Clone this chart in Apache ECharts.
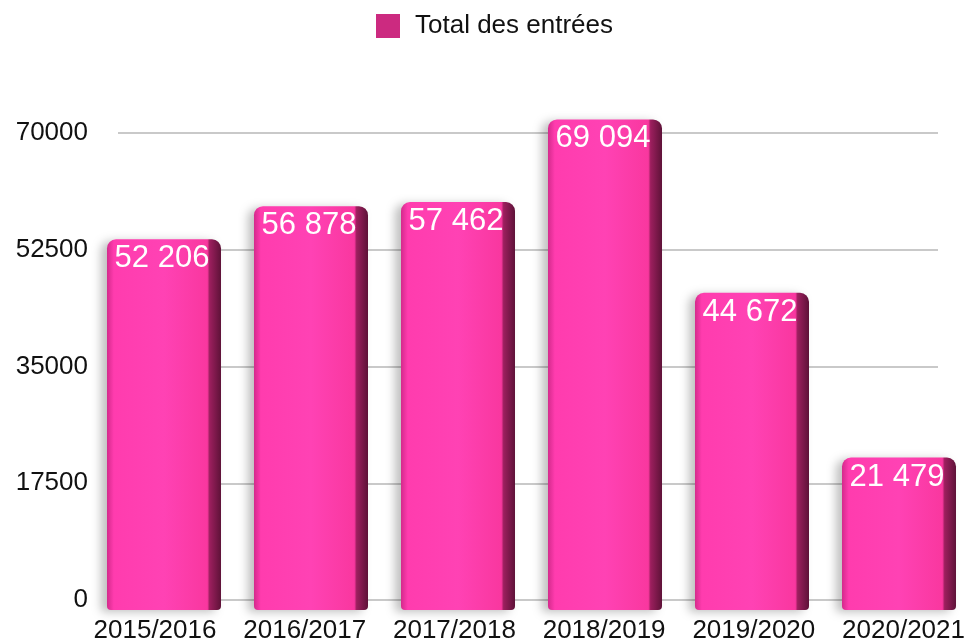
<!DOCTYPE html>
<html>
<head>
<meta charset="utf-8">
<script src="https://cdn.jsdelivr.net/npm/echarts@6/dist/echarts.min.js"></script>
<style>
  html, body { margin: 0; padding: 0; background: #fff; }
  #chart { width: 968px; height: 644px; }
</style>
</head>
<body>
<div id="chart"></div>
<script>
// données
const saisons = ['2015/2016', '2016/2017', '2017/2018', '2018/2019', '2019/2020', '2020/2021']
const entrees = [52206, 56878, 57462, 69094, 44672, 21479]
const graduations = [0, 17500, 35000, 52500, 70000]
const nomSerie = 'Total des entrées'

const police = '"Liberation Sans", Arial, Helvetica, sans-serif'

// format "52 206"
function fmt(v) {
    return String(v).replace(/\B(?=(\d{3})+(?!\d))/g, ' ')
}

const myChart = echarts.init(document.getElementById('chart'))
const option = {
    animation: false,
    legend: {
        top: 8,
        left: 371,
        itemWidth: 24,
        itemHeight: 24,
        itemGap: 10,
        textStyle: { fontSize: 26, color: '#111', fontFamily: police, padding: [0, 0, 0, 10] },
        data: [{ name: nomSerie, icon: 'rect', itemStyle: { color: '#cc2a80' } }]
    },
    grid: [
        // barres (centres aux bords, boundaryGap false)
        { left: 164, right: 69, top: 113, bottom: 34 },
        // graduations et lignes
        { left: 118, right: 30, top: 133, bottom: 44 },
        // étiquettes des saisons
        { left: 155, right: 60, top: 113, bottom: 34 }
    ],
    xAxis: [
        {
            type: 'category',
            gridIndex: 0,
            data: saisons,
            boundaryGap: false,
            show: false
        },
        {
            type: 'category',
            gridIndex: 1,
            data: saisons,
            show: false
        },
        {
            type: 'category',
            gridIndex: 2,
            data: saisons,
            boundaryGap: false,
            axisLine: { show: false },
            axisTick: { show: false },
            splitLine: { show: false },
            axisLabel: {
                interval: 0,
                hideOverlap: false,
                fontSize: 26,
                color: '#111',
                fontFamily: police,
                margin: 8
            }
        }
    ],
    yAxis: [
        {
            type: 'value',
            gridIndex: 0,
            min: 0,
            max: 70000,
            show: false
        },
        {
            type: 'value',
            gridIndex: 1,
            min: graduations[0],
            max: graduations[graduations.length - 1],
            interval: 17500,
            axisLine: { show: false },
            axisTick: { show: false },
            axisLabel: { fontSize: 26, color: '#111', fontFamily: police, margin: 30, formatter: v => String(v) },
            splitLine: { lineStyle: { color: '#c9c9c9', width: 2 } }
        },
        {
            type: 'value',
            gridIndex: 2,
            min: 0,
            max: 70000,
            show: false
        }
    ],
    series: [
        {
            name: nomSerie,
            type: 'bar',
            xAxisIndex: 0,
            yAxisIndex: 0,
            barWidth: 114,
            data: entrees,
            z: 3,
            itemStyle: {
                color: new echarts.graphic.LinearGradient(0, 0, 1, 0, [
                    { offset: 0, color: '#d42a8c' },
                    { offset: 0.06, color: '#ff3cae' },
                    { offset: 0.5, color: '#ff42b4' },
                    { offset: 0.88, color: '#f9379f' },
                    { offset: 0.9, color: '#9c1f5e' },
                    { offset: 1, color: '#5e1238' }
                ]),
                borderRadius: [9, 9, 4, 4],
                shadowColor: 'rgba(0,0,0,0.25)',
                shadowBlur: 10,
                shadowOffsetX: -6,
                shadowOffsetY: 2
            },
            label: {
                show: true,
                position: 'insideTop',
                distance: 4,
                offset: [-2, 0],
                color: '#fff',
                fontSize: 31,
                fontFamily: police,
                formatter: p => fmt(p.value)
            }
        }
    ]
}
myChart.setOption(option)
</script>
</body>
</html>
